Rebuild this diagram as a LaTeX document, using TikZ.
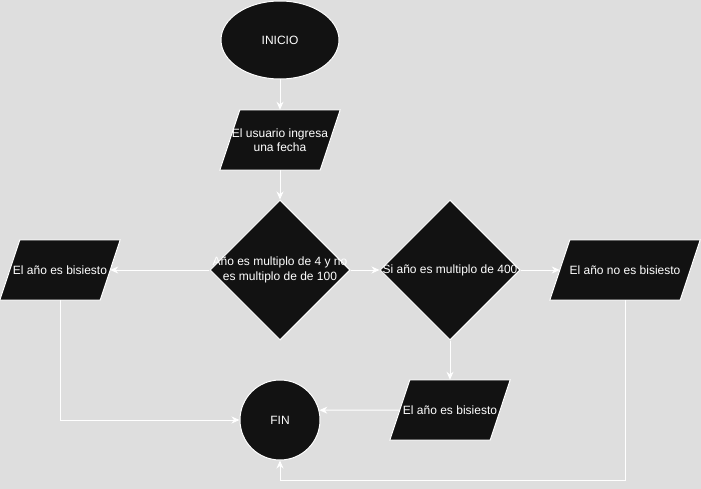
\documentclass[tikz,border=0pt]{standalone}
\usepackage{fontspec}
\setmainfont{Liberation Sans}
\usetikzlibrary{shapes.geometric,arrows.meta,backgrounds,calc}
\definecolor{bgc}{HTML}{DEDEDE}
\definecolor{shp}{HTML}{121212}
\begin{document}
\begin{tikzpicture}[x=1pt,y=-1pt,
  shapebox/.style={draw=white, line width=1pt, fill=shp},
  txt/.style={text=white, font=\fontsize{12}{14.4}\selectfont, align=center, inner sep=0pt},
  io/.style={txt, minimum height=60pt},
  conn/.style={draw=white, line width=1pt, -{Stealth[length=8pt,width=7pt,inset=2.5pt]}}]
\useasboundingbox (0,0) rectangle (701,489);
\node[ellipse, shapebox, minimum width=118pt, minimum height=78pt, txt] (ini) at (280,40) {INICIO};
\node[io, minimum width=100pt] (p1) at (280,140) {El usuario ingresa\\una fecha};
\node[diamond, shapebox, minimum width=140pt, minimum height=140pt, inner sep=0pt] (d1) at (280,270) {};
\node[txt] (t1) at (d1.center) {Año es multiplo de 4 y no\\es multiplo de de 100};
\node[diamond, shapebox, minimum width=140pt, minimum height=140pt, inner sep=0pt] (d2) at (450,270) {};
\node[txt] (t2) at (d2.center) {Si año es multiplo de 400};
\node[io, minimum width=100pt] (L) at (60,270) {El año es bisiesto};
\node[io, minimum width=130pt] (R) at (625,270) {El año no es bisiesto};
\node[io, minimum width=100pt] (B) at (450,410) {El año es bisiesto};
\node[circle, shapebox, minimum size=80pt, txt] (fin) at (280,420) {FIN};
\begin{scope}[on background layer]
  \fill[bgc] (0,0) rectangle (701,489);
  \foreach \n in {p1,L,R,B}{
    \path[shapebox] ([xshift=10pt]\n.north west) -- ([xshift=10pt]\n.north east) -- ([xshift=-10pt]\n.south east) -- ([xshift=-10pt]\n.south west) -- cycle;
  }
\end{scope}
\draw[conn] (ini) -- (p1);
\draw[conn] (p1) -- (d1);
\draw[conn] (d1) -- (d2);
\draw[conn] (d1) -- (L);
\draw[conn] (d2) -- (R);
\draw[conn] (d2) -- (B);
\draw[conn] (B.west) -- (fin.14.48);
\draw[conn] (L.south) |- (fin.west);
\draw[conn] (R.south) -- ++(0,180) -| (fin.south);
\end{tikzpicture}
\end{document}
